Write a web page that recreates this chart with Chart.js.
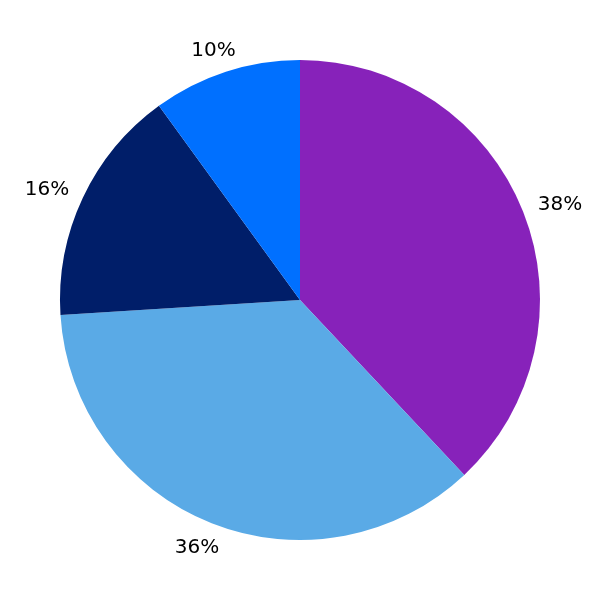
<!DOCTYPE html>
<html>
<head>
<meta charset="utf-8">
<script src="https://cdn.jsdelivr.net/npm/chart.js@4/dist/chart.umd.min.js"></script>
<style>
html,body{margin:0;padding:0;background:#fff;}
#wrap{width:600px;height:600px;}
</style>
</head>
<body>
<div id="wrap"><canvas id="c" width="600" height="600"></canvas></div>
<script>
const categories = ['A', 'B', 'C', 'D'];
const values = [38, 36, 16, 10];
const colors = ['#8722BA', '#5AAAE6', '#001E69', '#0070FF'];

const outsideLabels = {
  id: 'outsideLabels',
  afterDatasetsDraw(chart) {
    const ctx = chart.ctx;
    const meta = chart.getDatasetMeta(0);
    const total = values.reduce((a, b) => a + b, 0);
    const size = 20;
    ctx.save();
    ctx.font = size + 'px "DejaVu Sans"';
    ctx.fillStyle = '#000';
    ctx.textAlign = 'center';
    ctx.textBaseline = 'alphabetic';
    meta.data.forEach((arc, i) => {
      const p = arc.getProps(['x', 'y', 'startAngle', 'endAngle', 'outerRadius'], true);
      const mid = (p.startAngle + p.endAngle) / 2;
      const x = p.x + Math.cos(mid) * p.outerRadius * 1.165;
      const y = p.y + Math.sin(mid) * p.outerRadius * 1.10;
      ctx.fillText(Math.round(values[i] / total * 100) + '%', x, y + size * 0.365);
    });
    ctx.restore();
  }
};

new Chart(document.getElementById('c'), {
  type: 'pie',
  data: {
    labels: categories,
    datasets: [{
      data: values,
      backgroundColor: colors,
      borderWidth: 0
    }]
  },
  options: {
    responsive: false,
    animation: false,
    layout: { padding: 60 },
    plugins: {
      legend: { display: false },
      tooltip: { enabled: false }
    }
  },
  plugins: [outsideLabels]
});
</script>
</body>
</html>
